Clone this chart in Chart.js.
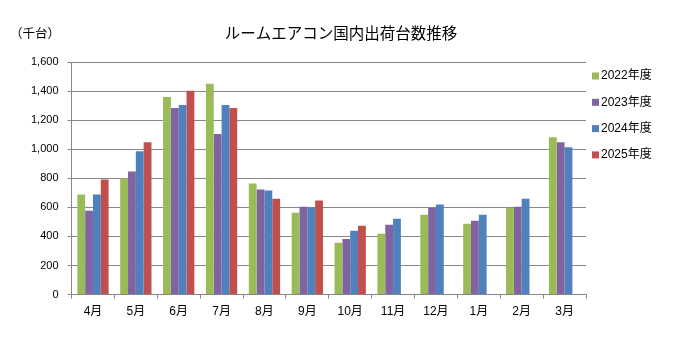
<!DOCTYPE html>
<html>
<head>
<meta charset="utf-8">
<script src="https://cdn.jsdelivr.net/npm/chart.js@4/dist/chart.umd.min.js"></script>
<style>
  html, body { margin: 0; padding: 0; background: #fff; }
  #wrap { width: 676px; height: 346px; position: relative; }
</style>
</head>
<body>
<div id="wrap"><canvas id="c" width="676" height="346"></canvas></div>
<script>
// 月（年度順）
const months = ['4月', '5月', '6月', '7月', '8月', '9月', '10月', '11月', '12月', '1月', '2月', '3月'];

// 国内出荷台数（千台）
const fy2022 = [688, 799, 1360, 1450, 764, 563, 356, 418, 550, 487, 598, 1083];
const fy2023 = [577, 847, 1284, 1104, 723, 605, 383, 480, 596, 508, 605, 1048];
const fy2024 = [688, 986, 1305, 1305, 716, 598, 439, 522, 619, 550, 660, 1014];
const fy2025 = [792, 1048, 1402, 1284, 660, 647, 473, null, null, null, null, null];

const seriesNames = ['2022年度', '2023年度', '2024年度', '2025年度'];
const seriesColors = ['#9BBB59', '#8064A2', '#4F81BD', '#C0504D'];

const chartTitle = 'ルームエアコン国内出荷台数推移';
const unitLabel = '（千台）';

const FONT = '"Liberation Sans", "Noto Sans CJK JP", sans-serif';
const GRID = '#878787';

// タイトル・単位・凡例を描画
const annotations = {
  id: 'annotations',
  afterDraw(chart) {
    const ctx = chart.ctx;
    const area = chart.chartArea;
    ctx.save();
    ctx.fillStyle = '#000';
    ctx.textBaseline = 'middle';
    ctx.font = '15.5px "Noto Sans CJK JP", sans-serif';
    ctx.textAlign = 'center';
    ctx.fillText(chartTitle, 341, 33);
    ctx.font = '12.5px "Noto Sans CJK JP", sans-serif';
    ctx.textAlign = 'left';
    ctx.fillText(unitLabel, 10, 33);

    ctx.font = '12px ' + FONT;
    chart.data.datasets.forEach((ds, i) => {
      const y = 76 + i * 26.3;
      ctx.fillStyle = ds.backgroundColor;
      ctx.fillRect(area.right + 6, y - 3.5, 7, 7);
      ctx.fillStyle = '#000';
      ctx.fillText(ds.label, area.right + 15, y);
    });
    ctx.restore();
  }
};

new Chart(document.getElementById('c'), {
  type: 'bar',
  data: {
    labels: months,
    datasets: [fy2022, fy2023, fy2024, fy2025].map((d, i) => ({
      label: seriesNames[i],
      data: d,
      backgroundColor: seriesColors[i],
      borderWidth: 0,
      categoryPercentage: 0.73,
      barPercentage: 1.0
    }))
  },
  options: {
    responsive: false,
    animation: false,
    devicePixelRatio: 1,
    layout: { padding: { top: 62, right: 90, left: 22, bottom: 21 } },
    plugins: {
      legend: { display: false },
      title: { display: false },
      tooltip: { enabled: false }
    },
    scales: {
      x: {
        grid: {
          display: true,
          drawOnChartArea: false,
          drawTicks: true,
          tickLength: 4,
          color: GRID,
          offset: true
        },
        border: { display: true, color: GRID, width: 1 },
        ticks: {
          color: '#000',
          font: { family: FONT, size: 12 },
          padding: 6,
          maxRotation: 0
        }
      },
      y: {
        min: 0,
        max: 1600,
        grid: {
          color: GRID,
          lineWidth: 1,
          drawTicks: true,
          tickLength: 4
        },
        border: { display: true, color: GRID, width: 1 },
        ticks: {
          stepSize: 200,
          color: '#000',
          font: { family: FONT, size: 11 },
          padding: 9,
          callback: v => v.toLocaleString('en-US')
        }
      }
    }
  },
  plugins: [annotations]
});
</script>
</body>
</html>
